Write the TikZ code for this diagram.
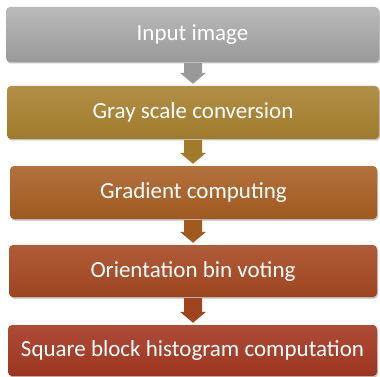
\documentclass[tikz,border=0pt]{standalone}
\usepackage{fontspec}
\setmainfont{Carlito}
\usetikzlibrary{calc,shadows}
\definecolor{gT}{HTML}{BABABA}\definecolor{gB}{HTML}{999999}
\definecolor{oT}{HTML}{B28F48}\definecolor{oB}{HTML}{A07B2C}
\definecolor{aT}{HTML}{B2713D}\definecolor{aB}{HTML}{A05A20}
\definecolor{rT}{HTML}{B05C38}\definecolor{rB}{HTML}{9E4520}
\definecolor{dT}{HTML}{AE4C37}\definecolor{dB}{HTML}{9C3520}
\tikzset{
  stepbox/.style={draw=none, rounded corners=4pt, inner sep=0pt, text=white,
    font=\fontsize{23}{27}\selectfont,
    drop shadow={shadow xshift=1pt, shadow yshift=-1.5pt, opacity=0.25, fill=black}},
}
\newcommand\blockarrow[3]{%
  \path let \p1=(#2.south), \p2=(#3.north) in
    [fill=#1]
    (193,\y1-1) ++(-9,0) -- ++(18,0) -- (202,\y2+13) -- (206,\y2+13)
    -- (193,\y2+2) -- (180,\y2+13) -- (184,\y2+13) -- cycle;}
\begin{document}
\begin{tikzpicture}[x=1pt,y=1pt]
\useasboundingbox (0,0) rectangle (380,-377);
\node[stepbox, top color=gT, bottom color=gB, minimum width=373pt, minimum height=55pt] (b1) at (192.5,-34.5) {Input image};
\node[stepbox, top color=oT, bottom color=oB, minimum width=372pt, minimum height=53pt] (b2) at (193,-112.5) {Gray scale conversion};
\node[stepbox, top color=aT, bottom color=aB, minimum width=367pt, minimum height=53pt] (b3) at (193.5,-192.5) {Gradient computing};
\node[stepbox, top color=rT, bottom color=rB, minimum width=368pt, minimum height=52pt] (b4) at (193,-271) {Orientation bin voting};
\node[stepbox, top color=dT, bottom color=dB, minimum width=369pt, minimum height=51pt] (b5) at (192.5,-350.5) {Square block histogram computation};
\blockarrow{gB}{b1}{b2}
\blockarrow{oB}{b2}{b3}
\blockarrow{aB}{b3}{b4}
\blockarrow{rB}{b4}{b5}
\end{tikzpicture}
\end{document}
